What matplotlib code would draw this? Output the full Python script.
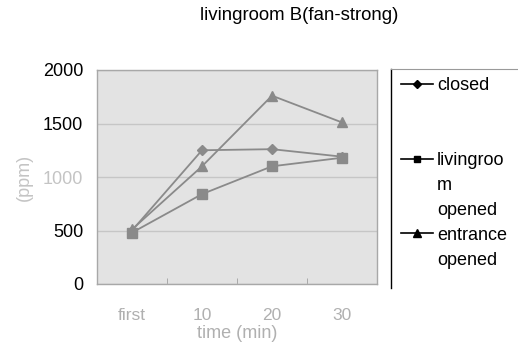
import matplotlib
matplotlib.use("Agg")
import matplotlib.pyplot as plt
from matplotlib.lines import Line2D
import numpy as np

plt.rcParams['font.family'] = ['Liberation Sans', 'DejaVu Sans']

categories = ["first", "10", "20", "30"]
closed = [500, 1250, 1260, 1190]
livingroom_opened = [480, 840, 1100, 1180]
entrance_opened = [510, 1100, 1760, 1510]
y_ticks = [0, 500, 1000, 1500, 2000]
title = "livingroom B(fan-strong)"

W, H = 518, 354
fig = plt.figure(figsize=(W / 100, H / 100), dpi=100)
ax = fig.add_axes([97 / W, 1 - 284 / H, 280 / W, 214 / H])

ax.set_facecolor("#e3e3e3")
x = np.arange(len(categories))
line_col = "#8a8a8a"
ax.plot(x, closed, color=line_col, lw=1.3, marker="D", ms=5.5, mfc=line_col, mec=line_col, zorder=3)
ax.plot(x, livingroom_opened, color=line_col, lw=1.3, marker="s", ms=6.5, mfc=line_col, mec=line_col, zorder=3)
ax.plot(x, entrance_opened, color=line_col, lw=1.3, marker="^", ms=7, mfc=line_col, mec=line_col, zorder=3)

ax.set_xlim(-0.5, len(categories) - 0.5)
ax.set_ylim(0, 2000)
ax.set_yticks(y_ticks)
ax.set_yticklabels([str(v) for v in y_ticks])
for lbl, v in zip(ax.get_yticklabels(), y_ticks):
    lbl.set_color("#c4c4c4" if v == 1000 else "black")
ax.tick_params(axis="y", length=0, pad=10, labelsize=13)
ax.set_xticks(x)
ax.set_xticklabels(categories)
ax.tick_params(axis="x", which="major", length=0, pad=17, labelsize=12.5, labelcolor="#b0b0b0")
ax.set_xticks(x[:-1] + 0.5, minor=True)
ax.tick_params(axis="x", which="minor", direction="in", length=4, color="#a0a0a0")

ax.yaxis.grid(True, color="#c6c6c6", lw=1.0)
ax.set_axisbelow(True)
for s in ax.spines.values():
    s.set_color("#a8a8a8")
    s.set_linewidth(1.0)

ax.set_xlabel("time (min)", fontsize=13, color="#b0b0b0", labelpad=2)
ax.set_ylabel("(ppm)", fontsize=13, color="#c4c4c4", labelpad=7)

fig.text(299 / W, 1 - 16 / H, title, fontsize=13.4, ha="center", va="center", color="black")

# legend
blank = Line2D([], [], linestyle="none")
h_closed = Line2D([], [], color="black", lw=1.2, marker="D", ms=4.5)
h_living = Line2D([], [], color="black", lw=1.2, marker="s", ms=5)
h_entr = Line2D([], [], color="black", lw=1.2, marker="^", ms=5.5)
handles = [h_closed, blank, blank, h_living, blank, blank, h_entr, blank]
labels = ["closed", " ", " ", "livingroo", "m", "opened", "entrance", "opened"]
leg = fig.legend(handles, labels, loc="upper left", bbox_to_anchor=(401 / W, 1 - 77 / H),
                 frameon=False, fontsize=13, labelspacing=0.44, handlelength=1.75,
                 handletextpad=0.25, borderpad=0, borderaxespad=0)

fig.add_artist(Line2D([391 / W, 391 / W], [1 - 69 / H, 1 - 288 / H], transform=fig.transFigure,
                      color="black", lw=1.0))
fig.add_artist(Line2D([391 / W, 1.0], [1 - 69 / H, 1 - 69 / H], transform=fig.transFigure,
                      color="#9a9a9a", lw=0.8))

fig.savefig("out.png", dpi=100)
